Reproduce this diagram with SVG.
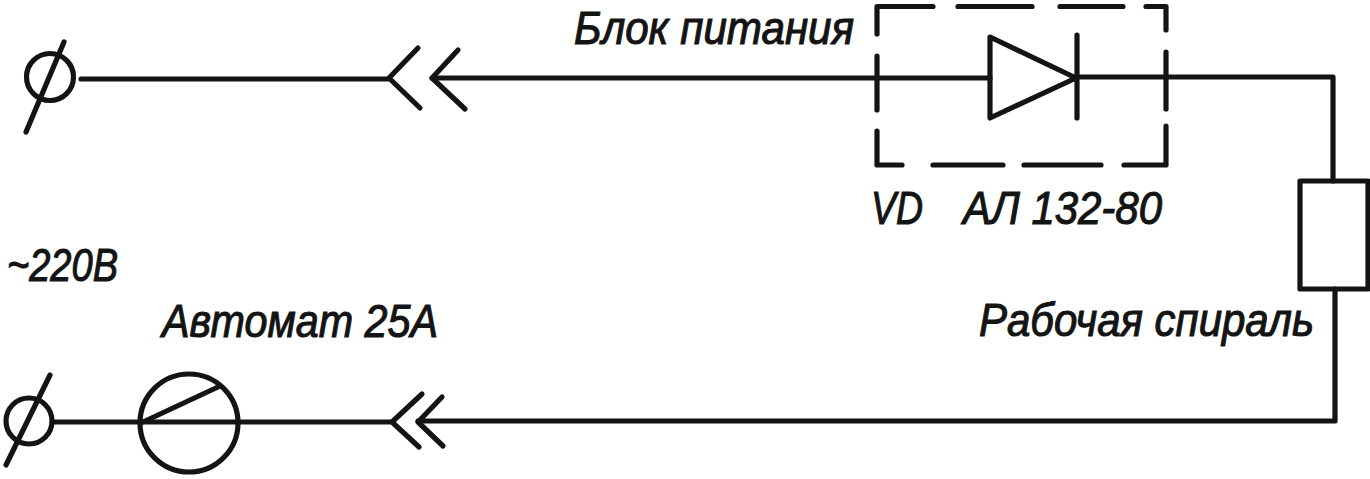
<svg xmlns="http://www.w3.org/2000/svg" width="1370" height="479" viewBox="0 0 1370 479">
<style>
.l{fill:none;stroke:#141414;stroke-width:5.200;stroke-linecap:round;stroke-linejoin:round}
text{font-family:"Liberation Sans",Arial,sans-serif;font-style:italic;font-size:46px;fill:#141414;stroke:#141414;stroke-width:1.100}
</style>
<rect width="1370" height="479" fill="#fff"/>
<g id="connectors">
<path class="l" d="M81 79H389M432 78H990M1076 77H1333V181M1335 289V421H418M55 422H392"/>
</g>
<g id="terminal-top"><circle class="l" cx="50" cy="77" r="23.500"/><path class="l" d="M64 42L26 132"/></g>
<g id="terminal-bottom"><circle class="l" cx="29" cy="421" r="23"/><path class="l" d="M6 465L50 375"/></g>
<g id="connector-top"><path class="l" d="M418 48L389 78L420 108M458 50L432 78L465 109"/></g>
<g id="connector-bottom"><path class="l" d="M422 394L392 422L419 447M442 397L418 422L443 446"/></g>
<g id="breaker"><circle class="l" cx="189" cy="423" r="49"/><path class="l" d="M143 422L218 387"/></g>
<g id="power-block">
<path class="l" d="M877 34V6.500H933M958 6.500H1032M1060 6.500H1123M1146 6.500H1166V30M1166 52V109M1166 126V165H1124M1101 165H1024M1003 165H933M902 165H877V131M877 110V56"/>
<path class="l" d="M990 37L1076 78L990 118ZM1077 35V118"/>
</g>
<g id="resistor"><rect class="l" x="1300" y="181" width="68" height="108"/></g>
<g id="labels">
<text x="574" y="44" textLength="280" lengthAdjust="spacingAndGlyphs">Блок питания</text>
<text x="871" y="224" textLength="52" lengthAdjust="spacingAndGlyphs">VD</text>
<text x="963" y="224" textLength="199" lengthAdjust="spacingAndGlyphs">АЛ 132-80</text>
<text x="7" y="281" textLength="111" lengthAdjust="spacingAndGlyphs">~220В</text>
<text x="162" y="337" textLength="276" lengthAdjust="spacingAndGlyphs">Автомат 25А</text>
<text x="979" y="336" textLength="335" lengthAdjust="spacingAndGlyphs">Рабочая спираль</text>
</g>
</svg>
